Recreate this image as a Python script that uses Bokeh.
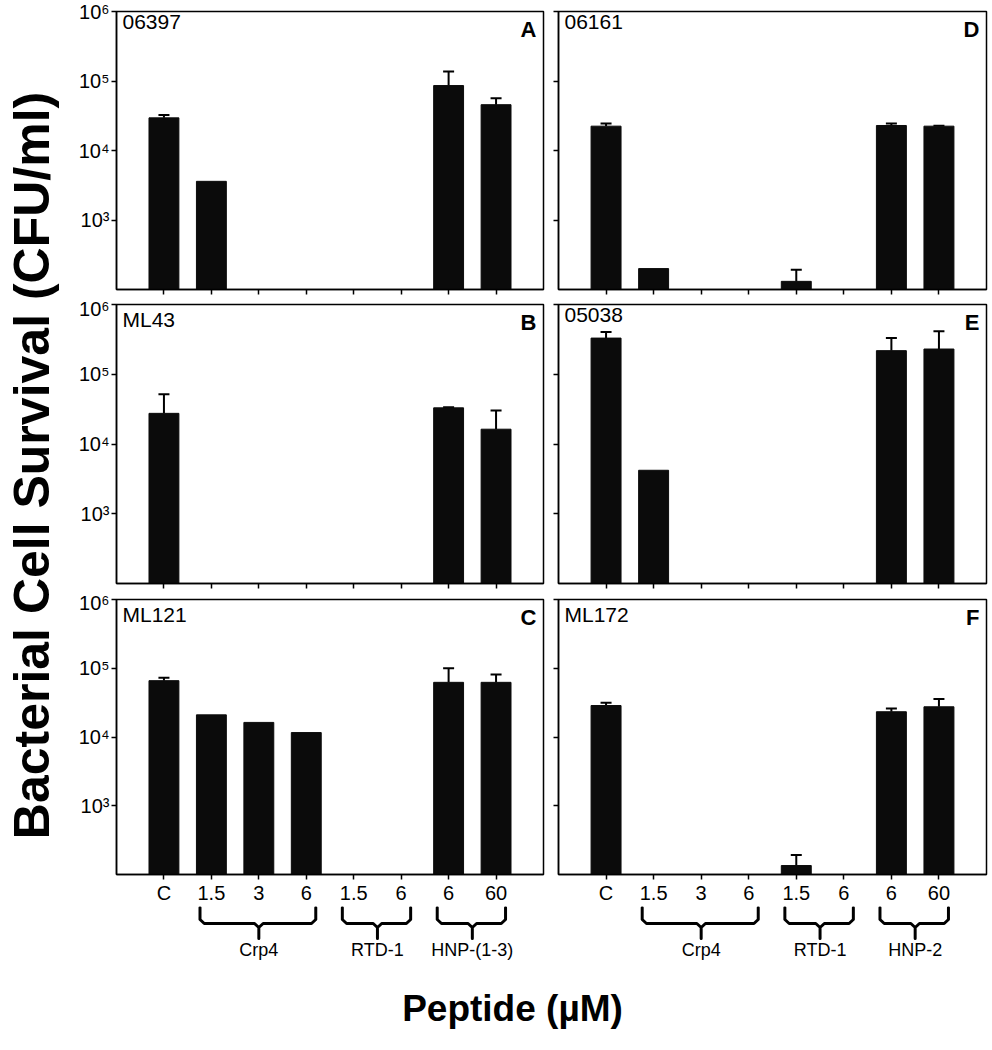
import numpy as np
from bokeh.plotting import figure
from bokeh.layouts import row, column
from bokeh.models import Range1d, FixedTicker, ColumnDataSource, Whisker, TeeHead, Label
from bokeh.embed import file_html
from bokeh.resources import INLINE
from bokeh.core.properties import value

# ---------------- data ----------------
categories = ["C", "1.5", "3", "6", "1.5", "6", "6", "60"]
group_members = [[1, 2, 3], [4, 5], [6, 7]]          # indexes into categories
groups_left = ["Crp4", "RTD-1", "HNP-(1-3)"]
groups_right = ["Crp4", "RTD-1", "HNP-2"]
y_ticks = [1e3, 1e4, 1e5, 1e6]
y_tick_labels = ["10³", "10⁴", "10⁵", "10⁶"]

strains = ["06397", "ML43", "ML121", "06161", "05038", "ML172"]
panel_letters = ["A", "B", "C", "D", "E", "F"]

mean_06397 = [29500, 3600, None, None, None, None, 86000, 45600]
err_06397 = [3000, None, None, None, None, None, 51000, 11000]

mean_ML43 = [27500, None, None, None, None, None, 33000, 16300]
err_ML43 = [24000, None, None, None, None, None, 700, 14000]

mean_ML121 = [66000, 21000, 16300, 11600, None, None, 62400, 62400]
err_ML121 = [6600, None, None, None, None, None, 37600, 19000]

mean_06161 = [22400, 200, None, None, 131, None, 22900, 22400]
err_06161 = [2100, None, None, None, 61, None, 1600, 300]

mean_05038 = [330000, 4200, None, None, None, None, 218000, 230000]
err_05038 = [75000, None, None, None, None, None, 112000, 185000]

mean_ML172 = [28700, None, None, None, 135, None, 23300, 27500]
err_ML172 = [2900, None, None, None, 57, None, 2600, 8100]

panel_means = [mean_06397, mean_ML43, mean_ML121, mean_06161, mean_05038, mean_ML172]
panel_errs = [err_06397, err_ML43, err_ML121, err_06161, err_05038, err_ML172]

# ---------------- styling / layout ----------------
FONT = "Liberation Sans"
BAR = "#0b0b0b"
n_cat = len(categories)
positions = list(range(1, n_cat + 1))

TITLE_W = 66
LEFT_BL, LEFT_BR = 50, 5
RIGHT_BL, RIGHT_BR = 10, 4
LEFT_W = LEFT_BL + 427 + LEFT_BR
RIGHT_W = RIGHT_BL + 428 + RIGHT_BR
ROWS = [(297, 11, 8), (294, 7, 8), (315, 8, 30)]   # (height, border top, border bottom)

xr_left = Range1d(0, n_cat + 1)
xr_right = Range1d(0, n_cat + 1)


def make_panel(k, left, ri):
    h, bt, bb = ROWS[ri]
    bottom_row = ri == len(ROWS) - 1
    p = figure(width=LEFT_W if left else RIGHT_W, height=h,
               x_range=xr_left if left else xr_right,
               y_range=Range1d(100, 1e6), y_axis_type="log",
               output_backend="svg", toolbar_location=None,
               min_border_left=LEFT_BL if left else RIGHT_BL,
               min_border_right=LEFT_BR if left else RIGHT_BR,
               min_border_top=bt, min_border_bottom=bb)
    p.background_fill_color = "white"
    p.border_fill_color = "white"
    p.outline_line_color = "black"
    p.outline_line_width = 1.5
    p.outline_line_alpha = 1.0
    p.grid.visible = False

    means, errs = panel_means[k], panel_errs[k]
    xs = [positions[i] for i, m in enumerate(means) if m is not None]
    tops = [m for m in means if m is not None]
    p.vbar(x=xs, top=tops, bottom=100, width=0.63,
           fill_color=BAR, line_color=BAR, line_width=1)

    wx, wl, wu = [], [], []
    for i, (m, e) in enumerate(zip(means, errs)):
        if m is not None and e:
            wx.append(positions[i]); wl.append(m); wu.append(m + e)
    if wx:
        src = ColumnDataSource(dict(x=wx, lower=wl, upper=wu))
        p.add_layout(Whisker(source=src, base="x", lower="lower", upper="upper",
                             dimension="height", line_color="black", line_width=2,
                             upper_head=TeeHead(size=11, line_width=2, line_color="black"),
                             lower_head=None))

    # axes
    p.yaxis.ticker = FixedTicker(ticks=y_ticks)
    if left:
        p.yaxis.major_label_overrides = {t: lab for t, lab in zip(y_ticks, y_tick_labels)}
        p.yaxis.major_label_text_font_size = "20px"
    else:
        p.yaxis.major_label_overrides = {t: "" for t in y_ticks}
        p.yaxis.major_label_text_font_size = "1px"
    p.xaxis.ticker = FixedTicker(ticks=positions)
    if bottom_row:
        p.xaxis.major_label_overrides = {pos: c for pos, c in zip(positions, categories)}
        p.xaxis.major_label_text_font_size = "20px"
    else:
        p.xaxis.major_label_overrides = {pos: "" for pos in positions}
        p.xaxis.major_label_text_font_size = "1px"
    for ax in (p.xaxis[0], p.yaxis[0]):
        ax.major_label_text_font = FONT
        ax.major_label_text_color = "black"
        ax.major_label_standoff = 2
        ax.major_tick_out = 5
        ax.major_tick_in = 0
        ax.major_tick_line_width = 1.5
        ax.major_tick_line_color = "black"
        ax.minor_tick_line_color = None
        ax.axis_line_color = "black"
        ax.axis_line_width = 1.5

    p.add_layout(Label(x=0, y=1e6, x_offset=6, y_offset=-3, text=strains[k],
                       text_font=FONT, text_font_size="21px", text_color="black",
                       text_align="left", text_baseline="top"))
    p.add_layout(Label(x=n_cat + 1, y=1e6, x_offset=-7, y_offset=-5, text=panel_letters[k],
                       text_font=FONT, text_font_size="22px", text_font_style="bold",
                       text_color="black", text_align="right", text_baseline="top"))
    return p


left_panels = [make_panel(i, True, i) for i in range(3)]
right_panels = [make_panel(i + 3, False, i) for i in range(3)]

BRACE_H = 64


def make_brace(left, names):
    p = figure(width=LEFT_W if left else RIGHT_W, height=BRACE_H,
               x_range=xr_left if left else xr_right, y_range=Range1d(BRACE_H, 0),
               x_axis_location=None, y_axis_location=None,
               output_backend="svg", toolbar_location=None,
               min_border_left=LEFT_BL if left else RIGHT_BL,
               min_border_right=LEFT_BR if left else RIGHT_BR,
               min_border_top=0, min_border_bottom=0)
    p.outline_line_color = None
    p.grid.visible = False
    top, mid, tip, d = 1, 17, 32, 0.09
    for members, name in zip(group_members, names):
        x0 = positions[members[0]] - 0.24
        x1 = positions[members[-1]] + 0.2
        xc = (positions[members[0]] + positions[members[-1]]) / 2
        bx = [x0, x0, x0 + d, xc - d, xc, xc, xc, xc + d, x1 - d, x1, x1]
        by = [top, mid - 4, mid, mid, mid + 4, tip, mid + 4, mid, mid, mid - 4, top]
        p.line(bx, by, line_color="black", line_width=3, line_join="round", line_cap="round")
        p.text(x=[xc], y=[43], text=[name], text_font=value(FONT), text_font_size="18px",
               text_align="center", text_baseline="middle", text_color="black")
    return p


brace_left = make_brace(True, groups_left)
brace_right = make_brace(False, groups_right)

total_h = sum(r[0] for r in ROWS) + BRACE_H
ytitle = figure(width=TITLE_W, height=total_h, x_range=Range1d(0, TITLE_W),
                y_range=Range1d(total_h, 0), x_axis_location=None, y_axis_location=None,
                output_backend="svg", toolbar_location=None, min_border=0)
ytitle.outline_line_color = None
ytitle.grid.visible = False
ytitle.text(x=[31], y=[465], text=["Bacterial Cell Survival (CFU/ml)"], angle=np.pi / 2,
            text_font=value(FONT), text_font_style="bold", text_font_size="50px",
            text_align="center", text_baseline="middle", text_color="black")

PEP_W = TITLE_W + LEFT_W + RIGHT_W
PEP_H = 70
xtitle = figure(width=PEP_W, height=PEP_H, x_range=Range1d(0, PEP_W), y_range=Range1d(PEP_H, 0),
                x_axis_location=None, y_axis_location=None,
                output_backend="svg", toolbar_location=None, min_border=0)
xtitle.outline_line_color = None
xtitle.grid.visible = False
xtitle.text(x=[512], y=[38], text=["Peptide (µM)"],
            text_font=value(FONT), text_font_style="bold", text_font_size="37px",
            text_align="center", text_baseline="middle", text_color="black")

grid = column(row(left_panels[0], right_panels[0]),
              row(left_panels[1], right_panels[1]),
              row(left_panels[2], right_panels[2]),
              row(brace_left, brace_right))
layout = column(row(ytitle, grid), xtitle)

open("out.html", "w").write(file_html(layout, INLINE))
